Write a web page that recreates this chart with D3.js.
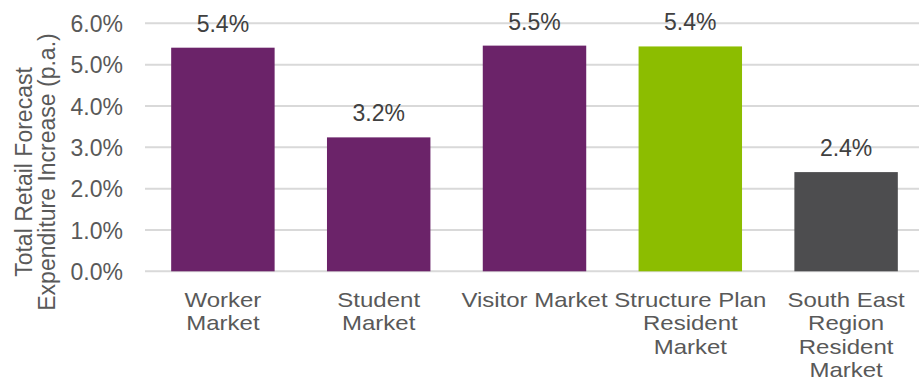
<!DOCTYPE html>
<html>
<head>
<meta charset="utf-8">
<script src="https://cdn.jsdelivr.net/npm/d3@7"></script>
<style>
  body { margin: 0; background: #fff; }
  text { font-family: "Liberation Sans", Arial, sans-serif; }
</style>
</head>
<body>
<div class="chart"></div>
<script>
// data
const categories = [
  "Worker|Market",
  "Student|Market",
  "Visitor Market",
  "Structure Plan|Resident|Market",
  "South East|Region|Resident|Market"
];
const values = [5.41, 3.24, 5.46, 5.44, 2.40];
const colours = ["#6B2369", "#6B2369", "#6B2369", "#8CBD00", "#4D4D4F"];
const yTicks = [0, 1, 2, 3, 4, 5, 6];
const titleLines = ["Total Retail Forecast", "Expenditure Increase (p.a.)"];

const width = 919, height = 391;
const svg = d3.select(".chart").append("svg")
  .attr("width", width)
  .attr("height", height);

const x = d3.scaleBand()
  .domain(categories)
  .range([145, 924])
  .paddingInner(0.336)
  .paddingOuter(0.168);

const y = d3.scaleLinear()
  .domain([0, 6])
  .range([271.3, 23.3]);

// gridlines
svg.append("g")
  .selectAll("line")
  .data(yTicks)
  .join("line")
  .attr("x1", 145)
  .attr("x2", width)
  .attr("y1", d => y(d))
  .attr("y2", d => y(d))
  .attr("stroke", "#D9D9D9")
  .attr("stroke-width", 2);

// y axis labels
const yAxis = d3.axisLeft(y)
  .tickValues(yTicks)
  .tickFormat(d => d.toFixed(1) + "%")
  .tickSize(0)
  .tickPadding(0);

const ya = svg.append("g")
  .attr("transform", "translate(123,0)")
  .call(yAxis);
ya.select(".domain").remove();
ya.selectAll("text")
  .attr("fill", "#595959")
  .style("font-size", "23px")
  .attr("dy", "0.36em");

// bars
svg.append("g")
  .selectAll("rect")
  .data(values)
  .join("rect")
  .attr("x", (d, i) => x(categories[i]))
  .attr("width", x.bandwidth())
  .attr("y", d => y(d))
  .attr("height", d => y(0) - y(d))
  .attr("fill", (d, i) => colours[i]);

// value labels
svg.append("g")
  .selectAll("text")
  .data(values)
  .join("text")
  .attr("x", (d, i) => x(categories[i]) + x.bandwidth() / 2)
  .attr("y", d => y(d) - 16)
  .attr("text-anchor", "middle")
  .attr("fill", "#404040")
  .style("font-size", "23px")
  .text(d => d.toFixed(1) + "%");

// category labels (text is a bit wide in the original, so stretch sideways)
const cat = svg.append("g")
  .selectAll("g")
  .data(categories)
  .join("g")
  .attr("transform", d => `translate(${x(d) + x.bandwidth() / 2},0) scale(1.2,1)`)
  .append("text")
  .attr("text-anchor", "middle")
  .attr("fill", "#595959")
  .style("font-size", "20px");

cat.selectAll("tspan")
  .data(d => d.split("|"))
  .join("tspan")
  .attr("x", 0)
  .attr("y", (d, i) => 307 + i * 23.3)
  .text(d => d);

// axis title
svg.append("text")
  .attr("transform", "translate(0,172) rotate(-90)")
  .attr("text-anchor", "middle")
  .attr("fill", "#595959")
  .style("font-size", "23px")
  .selectAll("tspan")
  .data(titleLines)
  .join("tspan")
  .attr("x", 0)
  .attr("y", (d, i) => 32 + i * 23)
  .text(d => d);
</script>
</body>
</html>
